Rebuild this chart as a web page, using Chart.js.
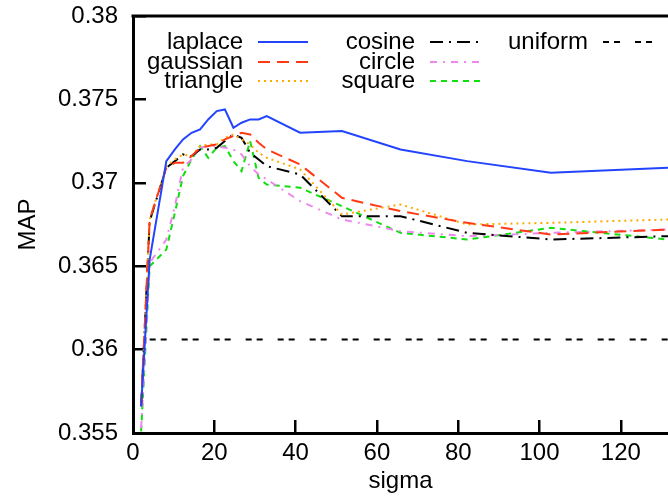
<!DOCTYPE html>
<html>
<head>
<meta charset="utf-8">
<script src="https://cdn.jsdelivr.net/npm/chart.js@4/dist/chart.umd.min.js"></script>
<style>
  body { margin: 0; background: #fff; }
</style>
</head>
<body>
<canvas id="map_chart" width="668" height="500"></canvas>
<script>
// sigma values and MAP per kernel
let sigma    = [2, 4.1, 8.2, 10.3, 12.3, 14.4, 16.5, 18.5, 20.6, 22.6, 24.7, 26.7, 28.8, 30.9, 32.9, 41.1, 51.4, 65.8, 82.2, 102.8, 131.6]
let laplace  = [0.3566, 0.3654, 0.3713, 0.3720, 0.3726, 0.3730, 0.3732, 0.3738, 0.3743, 0.3744, 0.3733, 0.3736, 0.3738, 0.3738, 0.3740, 0.3730, 0.3731, 0.3720, 0.3713, 0.3706, 0.3709]
let gaussian = [0.3567, 0.3678, 0.3709, 0.3712, 0.3712, 0.3716, 0.3721, 0.3722, 0.3723, 0.3726, 0.3728, 0.3730, 0.3729, 0.3724, 0.3720, 0.3711, 0.3691, 0.3683, 0.3676, 0.3669, 0.3672]
let triangle = [0.3567, 0.3678, 0.3710, 0.3714, 0.3717, 0.3716, 0.3722, 0.3723, 0.3723, 0.3727, 0.3729, 0.3726, 0.3723, 0.3718, 0.3715, 0.3708, 0.3681, 0.3687, 0.3675, 0.3676, 0.3678]
let cosine   = [0.3566, 0.3677, 0.3709, 0.3713, 0.3717, 0.3716, 0.3720, 0.3720, 0.3721, 0.3725, 0.3729, 0.3727, 0.3718, 0.3714, 0.3710, 0.3705, 0.3680, 0.3680, 0.3670, 0.3666, 0.3668]
let circle   = [0.3553, 0.3652, 0.3666, 0.3686, 0.3709, 0.3714, 0.3721, 0.3722, 0.3722, 0.3721, 0.3720, 0.3717, 0.3710, 0.3705, 0.3702, 0.3689, 0.3678, 0.3671, 0.3668, 0.3670, 0.3672]
let square   = [0.3551, 0.3650, 0.3660, 0.3682, 0.3704, 0.3714, 0.3722, 0.3715, 0.3721, 0.3722, 0.3713, 0.3707, 0.3725, 0.3703, 0.3699, 0.3697, 0.3686, 0.3670, 0.3666, 0.3673, 0.3666]
let uniform  = [null, 0.3606, 0.3606, 0.3606, 0.3606, 0.3606, 0.3606, 0.3606, 0.3606, 0.3606, 0.3606, 0.3606, 0.3606, 0.3606, 0.3606, 0.3606, 0.3606, 0.3606, 0.3606, 0.3606, 0.3606]

let xTicks = [0, 20, 40, 60, 80, 100, 120]
let yTicks = [0.355, 0.36, 0.365, 0.37, 0.375, 0.38]
let yTickLabels = ["0.355", "0.36", "0.365", "0.37", "0.375", "0.38"]

function points(values) {
    return values.map((v, i) => ({x: sigma[i], y: v}))
}

function line(label, values, color, dash) {
    return {
        label: label,
        data: points(values),
        borderColor: color,
        borderWidth: 2,
        borderDash: dash,
        pointRadius: 0,
        tension: 0,
        fill: false
    }
}

// gnuplot style key: label right aligned, sample line after it
const gnuKey = {
    id: "gnuKey",
    afterDatasetsDraw(chart) {
        const ctx = chart.ctx
        const cols = [243, 415, 588]
        const rows = [42, 62, 81]
        ctx.save()
        ctx.font = "24px 'Liberation Sans', Arial, sans-serif"
        ctx.textAlign = "right"
        ctx.textBaseline = "middle"
        ctx.fillStyle = "#000"
        chart.data.datasets.forEach((ds, i) => {
            let x = cols[Math.floor(i / 3)]
            let y = rows[i % 3]
            ctx.fillText(ds.label, x, y)
            ctx.strokeStyle = ds.borderColor
            ctx.lineWidth = ds.borderWidth
            ctx.setLineDash(ds.borderDash || [])
            ctx.beginPath()
            ctx.moveTo(x + 15, y)
            ctx.lineTo(x + 65, y)
            ctx.stroke()
        })
        ctx.restore()
    }
}

// top border of the frame
const topBorder = {
    id: "topBorder",
    afterDraw(chart) {
        const ctx = chart.ctx
        const a = chart.chartArea
        ctx.save()
        ctx.strokeStyle = "#000"
        ctx.lineWidth = 3
        ctx.beginPath()
        ctx.moveTo(a.left - 1.5, a.top)
        ctx.lineTo(a.right, a.top)
        ctx.stroke()
        ctx.restore()
    }
}

Chart.defaults.font.family = "'Liberation Sans', Arial, sans-serif"
Chart.defaults.font.size = 24
Chart.defaults.color = "#000"

new Chart("map_chart", {
    type: "line",
    data: {
        datasets: [
            line("laplace", laplace, "#2244ff", []),
            line("gaussian", gaussian, "#ff3a14", [12, 7]),
            line("triangle", triangle, "#ffaa00", [2, 4]),
            line("cosine", cosine, "#000000", [13, 6, 2, 6]),
            line("circle", circle, "#ee88ee", [7, 6, 2, 6]),
            line("square", square, "#11dd11", [6, 5]),
            line("uniform", uniform, "#000000", [6, 5, 6, 15])
        ]
    },
    options: {
        responsive: false,
        animation: false,
        layout: {padding: {top: 16, left: 0, right: 0, bottom: 0}},
        plugins: {
            legend: {display: false},
            tooltip: {enabled: false}
        },
        scales: {
            x: {
                type: "linear",
                min: 0,
                max: 131.6,
                afterBuildTicks: s => { s.ticks = xTicks.map(v => ({value: v})) },
                afterFit: s => { s.height = 67; s.paddingLeft = 0; s.paddingRight = 0 },
                ticks: {padding: 19, maxRotation: 0},
                grid: {drawOnChartArea: false, tickLength: -13, lineWidth: 2.5, color: "#000"},
                border: {width: 3, color: "#000"},
                title: {display: true, text: "sigma", padding: {top: 0, bottom: 4}}
            },
            y: {
                type: "linear",
                min: 0.355,
                max: 0.38,
                afterBuildTicks: s => { s.ticks = yTicks.map(v => ({value: v})) },
                afterFit: s => { s.width = 133; s.paddingTop = 0; s.paddingBottom = 0 },
                ticks: {
                    padding: 28,
                    callback: (v) => yTickLabels[yTicks.findIndex(t => Math.abs(t - v) < 1e-6)]
                },
                grid: {drawOnChartArea: false, tickLength: -13, lineWidth: 2.5, color: "#000"},
                border: {width: 3, color: "#000"},
                title: {display: true, text: "MAP", padding: {top: 14, bottom: 0}}
            }
        }
    },
    plugins: [gnuKey, topBorder]
})
</script>
</body>
</html>
